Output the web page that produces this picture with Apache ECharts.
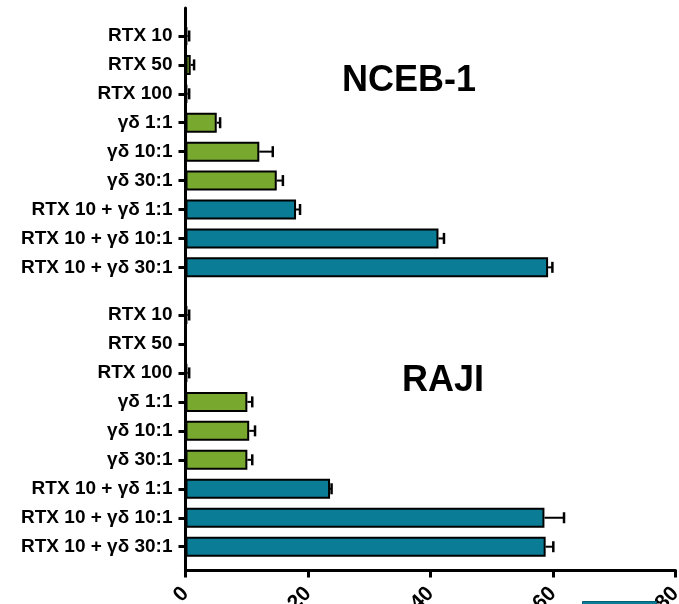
<!DOCTYPE html>
<html>
<head>
<meta charset="utf-8">
<script src="https://cdn.jsdelivr.net/npm/echarts@6/dist/echarts.min.js"></script>
<style>
  html, body { margin: 0; padding: 0; background: #fff; }
  #chart { width: 679px; height: 604px; }
</style>
</head>
<body>
<div id="chart"></div>
<script>
// ---- data ----
const categories = ['RTX 10', 'RTX 50', 'RTX 100', 'γδ 1:1', 'γδ 10:1', 'γδ 30:1',
  'RTX 10 + γδ 1:1', 'RTX 10 + γδ 10:1', 'RTX 10 + γδ 30:1'];
const categoryGroup = ['single', 'single', 'single', 'single', 'single', 'single', 'combo', 'combo', 'combo'];
const ncebMean = [0.3, 0.85, 0.3, 5.1, 12.05, 14.9, 18.05, 41.3, 59.2];
const ncebErr  = [0.3, 0.55, 0.3, 0.55, 2.2, 1.0, 0.65, 0.9, 0.7];
const rajiMean = [0.3, 0, 0.3, 10.1, 10.4, 10.1, 23.6, 58.6, 58.8];
const rajiErr  = [0.3, 0, 0.3, 0.8, 0.95, 0.8, 0.25, 3.2, 1.25];
const xTicks = [0, 20, 40, 60, 80];
const panelTitles = ['NCEB-1', 'RAJI'];
const legendNames = ['RTX 10 + γδ'];

// ---- styling ----
const GREEN = '#79a82f';
const TEAL = '#0a7c95';
const FONT = '"Liberation Sans", Arial, Helvetica, sans-serif';
const colorFor = g => (g === 'combo' ? TEAL : GREEN);

const xMin = xTicks[0], xMax = xTicks[xTicks.length - 1];
const xStep = xTicks[1] - xTicks[0];

function barData(means) {
  return means.map((v, i) => ({
    value: v,
    itemStyle: { color: colorFor(categoryGroup[i]) }
  }));
}
function errData(means, errs) {
  return means.map((v, i) => [v, i, errs[i]]);
}
function errRender(params, api) {
  const m = api.value(0), idx = api.value(1), e = api.value(2);
  if (!e) return null;
  const p0 = api.coord([m, idx]);
  const p1 = api.coord([m + e, idx]);
  const h = 11;
  return {
    type: 'group',
    children: [
      { type: 'line', shape: { x1: p0[0], y1: p0[1], x2: p1[0], y2: p1[1] },
        style: { stroke: '#000', lineWidth: 2 } },
      { type: 'line', shape: { x1: p1[0], y1: p1[1] - h / 2, x2: p1[0], y2: p1[1] + h / 2 },
        style: { stroke: '#000', lineWidth: 2.5 } }
    ]
  };
}

const catAxis = (gi) => ({
  type: 'category',
  gridIndex: gi,
  data: categories,
  inverse: true,
  axisLine: { show: false },
  axisTick: { show: true, alignWithLabel: true, length: 7, lineStyle: { color: '#000', width: 3 } },
  axisLabel: { color: '#000', fontFamily: FONT, fontWeight: 'bold', fontSize: 19, margin: 13 },
  splitLine: { show: false }
});
const hiddenX = (gi) => ({ type: 'value', gridIndex: gi, min: xMin, max: xMax, show: false });

const chart = echarts.init(document.getElementById('chart'), null, { renderer: 'canvas' });
chart.setOption({
  backgroundColor: '#fff',
  animation: false,
  title: [
    { text: panelTitles[0], left: 342, top: 63, padding: 0,
      textStyle: { fontFamily: FONT, fontWeight: 'bold', fontSize: 36, color: '#000' } },
    { text: panelTitles[1], left: 402, top: 363, padding: 0,
      textStyle: { fontFamily: FONT, fontWeight: 'bold', fontSize: 36, color: '#000' } }
  ],
  legend: {
    data: [{ name: legendNames[0], icon: 'rect', itemStyle: { color: TEAL, borderColor: '#075f73', borderWidth: 1 } }],
    left: 582, top: 601, padding: 0, itemWidth: 74, itemHeight: 20, selectedMode: false,
    textStyle: { fontFamily: FONT, fontWeight: 'bold', fontSize: 16, color: '#000' }
  },
  grid: [
    { left: 185.5, right: 3.5, top: 21.5, height: 260.3, outerBoundsMode: 'none', containLabel: false },
    { left: 185.5, right: 3.5, top: 300.5, height: 260.7, outerBoundsMode: 'none', containLabel: false },
    { left: 185.5, right: 3.5, top: 8, height: 562.5, outerBoundsMode: 'none', containLabel: false }
  ],
  xAxis: [
    hiddenX(0),
    hiddenX(1),
    {
      type: 'value', gridIndex: 2, min: xMin, max: xMax, interval: xStep,
      axisLine: { show: true, lineStyle: { color: '#000', width: 3 } },
      axisTick: { show: true, length: 7, lineStyle: { color: '#000', width: 3 } },
      axisLabel: { color: '#000', fontFamily: FONT, fontWeight: 'bold', fontSize: 21, rotate: 45, margin: 20 },
      splitLine: { show: false }
    }
  ],
  yAxis: [
    catAxis(0),
    catAxis(1),
    {
      type: 'value', gridIndex: 2, min: 0, max: 1,
      axisLine: { show: true, lineStyle: { color: '#000', width: 3 } },
      axisTick: { show: false }, axisLabel: { show: false }, splitLine: { show: false }
    }
  ],
  series: [
    { name: panelTitles[0], type: 'bar', xAxisIndex: 0, yAxisIndex: 0, barWidth: 20,
      data: barData(ncebMean), itemStyle: { borderColor: '#000', borderWidth: 2 }, z: 3 },
    { name: legendNames[0], type: 'bar', xAxisIndex: 1, yAxisIndex: 1, barWidth: 20,
      data: barData(rajiMean), itemStyle: { borderColor: '#000', borderWidth: 2 }, z: 3 },
    { type: 'custom', xAxisIndex: 0, yAxisIndex: 0, renderItem: errRender,
      encode: { x: 0, y: 1 }, data: errData(ncebMean, ncebErr), z: 4 },
    { type: 'custom', xAxisIndex: 1, yAxisIndex: 1, renderItem: errRender,
      encode: { x: 0, y: 1 }, data: errData(rajiMean, rajiErr), z: 4 }
  ]
});
</script>
</body>
</html>
